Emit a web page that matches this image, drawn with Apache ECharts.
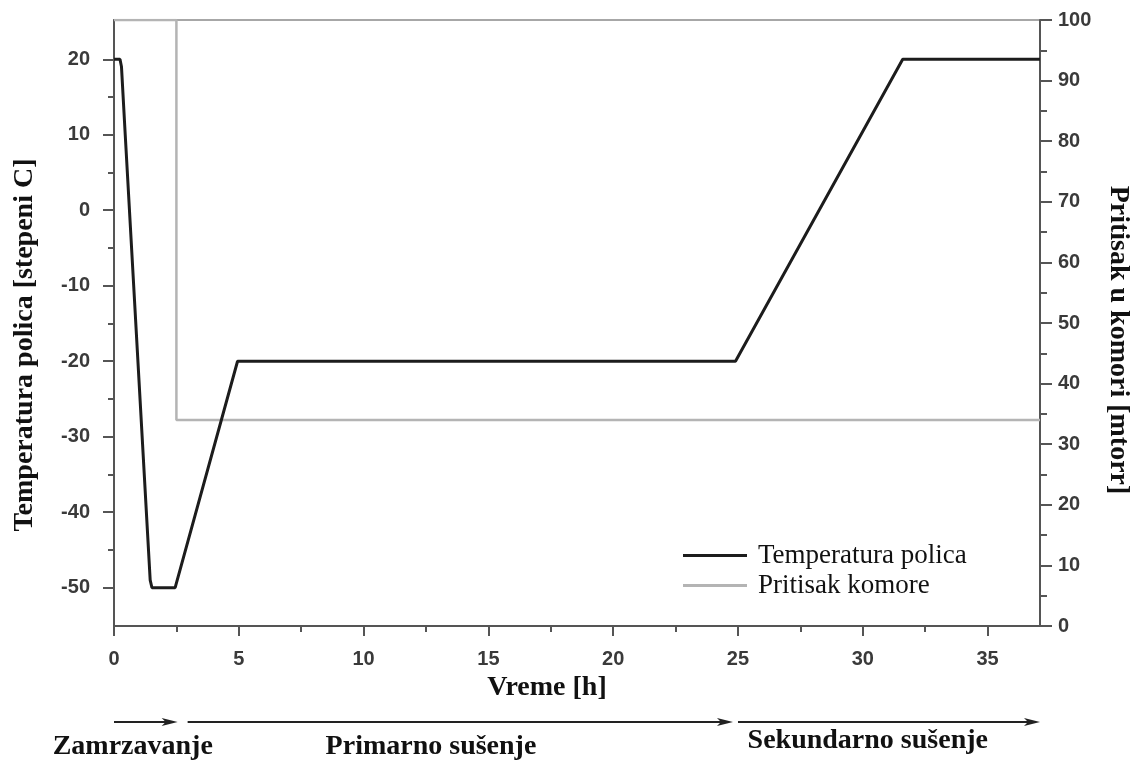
<!DOCTYPE html>
<html>
<head>
<meta charset="utf-8">
<script src="https://cdn.jsdelivr.net/npm/echarts@6/dist/echarts.min.js"></script>
<style>
html,body{margin:0;padding:0;background:#fff;}
#chart{width:1135px;height:761px;}
</style>
</head>
<body>
<div id="chart"></div>
<script>
// ---- data ----
const hours       = [0, 0.24, 0.3, 0.45, 1.45, 1.52, 2.45, 4.95, 24.9, 31.6, 37.1];
const shelfTemp   = [20, 20, 19, 10, -49, -50, -50, -20, -20, 20, 20];
const pressHours  = [0, 2.5, 2.5, 37.1];
const pressure    = [100, 100, 34, 34];

const xMajor = [0, 5, 10, 15, 20, 25, 30, 35];
const xMinor = [2.5, 7.5, 12.5, 17.5, 22.5, 27.5, 32.5];
const yLeftMajor = [-50, -40, -30, -20, -10, 0, 10, 20];
const yLeftMinor = [-45, -35, -25, -15, -5, 5, 15];
const yRightMajor = [0, 10, 20, 30, 40, 50, 60, 70, 80, 90, 100];
const yRightMinor = [5, 15, 25, 35, 45, 55, 65, 75, 85, 95];

const phaseNames = ['Zamrzavanje', 'Primarno sušenje', 'Sekundarno sušenje'];
const phaseStart = [0, 2.95, 25.0];
const phaseEnd   = [2.55, 24.8, 37.1];
const phaseLabelAt = [0.75, 12.7, 30.2];

const seriesNames = ['Temperatura polica', 'Pritisak komore'];

// ---- chart ----
const chart = echarts.init(document.getElementById('chart'), null, {renderer: 'canvas'});
const axisColor = '#555';
const lblStyle = {fontFamily: 'Liberation Sans', fontWeight: 'bold', fontSize: 20, color: '#3a3a3a'};
const serif = 'Liberation Serif';

function mainAxis(extra) {
  return Object.assign({
    type: 'value',
    splitLine: {show: false},
    axisLine: {show: true, onZero: false, lineStyle: {color: axisColor, width: 2}},
  }, extra);
}

const option = {
  animation: false,
  backgroundColor: '#fff',
  grid: {left: 114, right: 95, top: 20, bottom: 135, show: true, borderColor: '#8a8a8a', borderWidth: 1.5,
         containLabel: false, outerBoundsMode: 'none'},
  legend: {
    orient: 'vertical', left: 683, top: 542, padding: 0,
    icon: 'rect', itemWidth: 64, itemHeight: 3, itemGap: 3,
    data: seriesNames,
    textStyle: {fontFamily: serif, fontSize: 27, color: '#111', padding: [0, 0, 0, 6]}
  },
  xAxis: [
    mainAxis({min: 0, max: 37.1, position: 'bottom',
      axisTick: {show: true, customValues: xMajor, length: 10, lineStyle: {color: axisColor, width: 2}},
      axisLabel: Object.assign({customValues: xMajor, margin: 23}, lblStyle)}),
    mainAxis({min: 0, max: 37.1, position: 'bottom', axisLine: {show: false, onZero: false},
      axisTick: {show: true, customValues: xMinor, length: 6, lineStyle: {color: axisColor, width: 2}},
      axisLabel: {show: false}})
  ],
  yAxis: [
    mainAxis({min: -55.07, max: 25.2, position: 'left',
      axisTick: {show: true, customValues: yLeftMajor, length: 11, lineStyle: {color: axisColor, width: 2}},
      axisLabel: Object.assign({customValues: yLeftMajor, margin: 24}, lblStyle)}),
    mainAxis({min: 0, max: 100, position: 'right',
      axisTick: {show: true, customValues: yRightMajor, length: 12, lineStyle: {color: axisColor, width: 2}},
      axisLabel: Object.assign({customValues: yRightMajor, margin: 18}, lblStyle)}),
    mainAxis({min: -55.07, max: 25.2, position: 'left', axisLine: {show: false, onZero: false},
      axisTick: {show: true, customValues: yLeftMinor, length: 6, lineStyle: {color: axisColor, width: 2}},
      axisLabel: {show: false}}),
    mainAxis({min: 0, max: 100, position: 'right', axisLine: {show: false, onZero: false},
      axisTick: {show: true, customValues: yRightMinor, length: 7, lineStyle: {color: axisColor, width: 2}},
      axisLabel: {show: false}})
  ],
  series: [
    {name: seriesNames[0], type: 'line', xAxisIndex: 0, yAxisIndex: 0, symbol: 'none', z: 3,
     lineStyle: {color: '#1c1c1c', width: 3}, itemStyle: {color: '#1c1c1c'},
     data: hours.map((h, i) => [h, shelfTemp[i]])},
    {name: seriesNames[1], type: 'line', xAxisIndex: 0, yAxisIndex: 1, symbol: 'none', z: 2,
     lineStyle: {color: '#b4b4b4', width: 2.5}, itemStyle: {color: '#b4b4b4'},
     data: pressHours.map((h, i) => [h, pressure[i]])}
  ]
};
chart.setOption(option);

// ---- titles and phase arrows ----
const titleStyle = {fontFamily: serif, fontWeight: 'bold', fontSize: 28, fill: '#111'};
const graphics = [
  {type: 'text', x: 25, y: 345, rotation: Math.PI / 2,
   style: Object.assign({text: 'Temperatura polica [stepeni C]', align: 'center', verticalAlign: 'middle'}, titleStyle)},
  {type: 'text', x: 1118, y: 340, rotation: -Math.PI / 2,
   style: Object.assign({text: 'Pritisak u komori [mtorr]', align: 'center', verticalAlign: 'middle'}, titleStyle)},
  {type: 'text', x: 547, y: 688,
   style: Object.assign({text: 'Vreme [h]', align: 'center', verticalAlign: 'middle'}, titleStyle)}
];
const arrowY = 722;
const labelY = [747, 747, 741];
for (let i = 0; i < phaseNames.length; i++) {
  const x1 = chart.convertToPixel({xAxisIndex: 0}, phaseStart[i]);
  const x2 = chart.convertToPixel({xAxisIndex: 0}, phaseEnd[i]);
  const xl = chart.convertToPixel({xAxisIndex: 0}, phaseLabelAt[i]);
  graphics.push({type: 'line', shape: {x1: x1, y1: arrowY, x2: x2 - 8, y2: arrowY},
                 style: {stroke: '#222', lineWidth: 2}});
  graphics.push({type: 'polygon', shape: {points: [[x2 - 16, arrowY - 4], [x2, arrowY], [x2 - 16, arrowY + 4], [x2 - 12, arrowY]]},
                 style: {fill: '#222'}});
  graphics.push({type: 'text', x: xl, y: labelY[i],
                 style: Object.assign({text: phaseNames[i], align: 'center', verticalAlign: 'middle'}, titleStyle)});
}
chart.setOption({graphic: graphics});
</script>
</body>
</html>
